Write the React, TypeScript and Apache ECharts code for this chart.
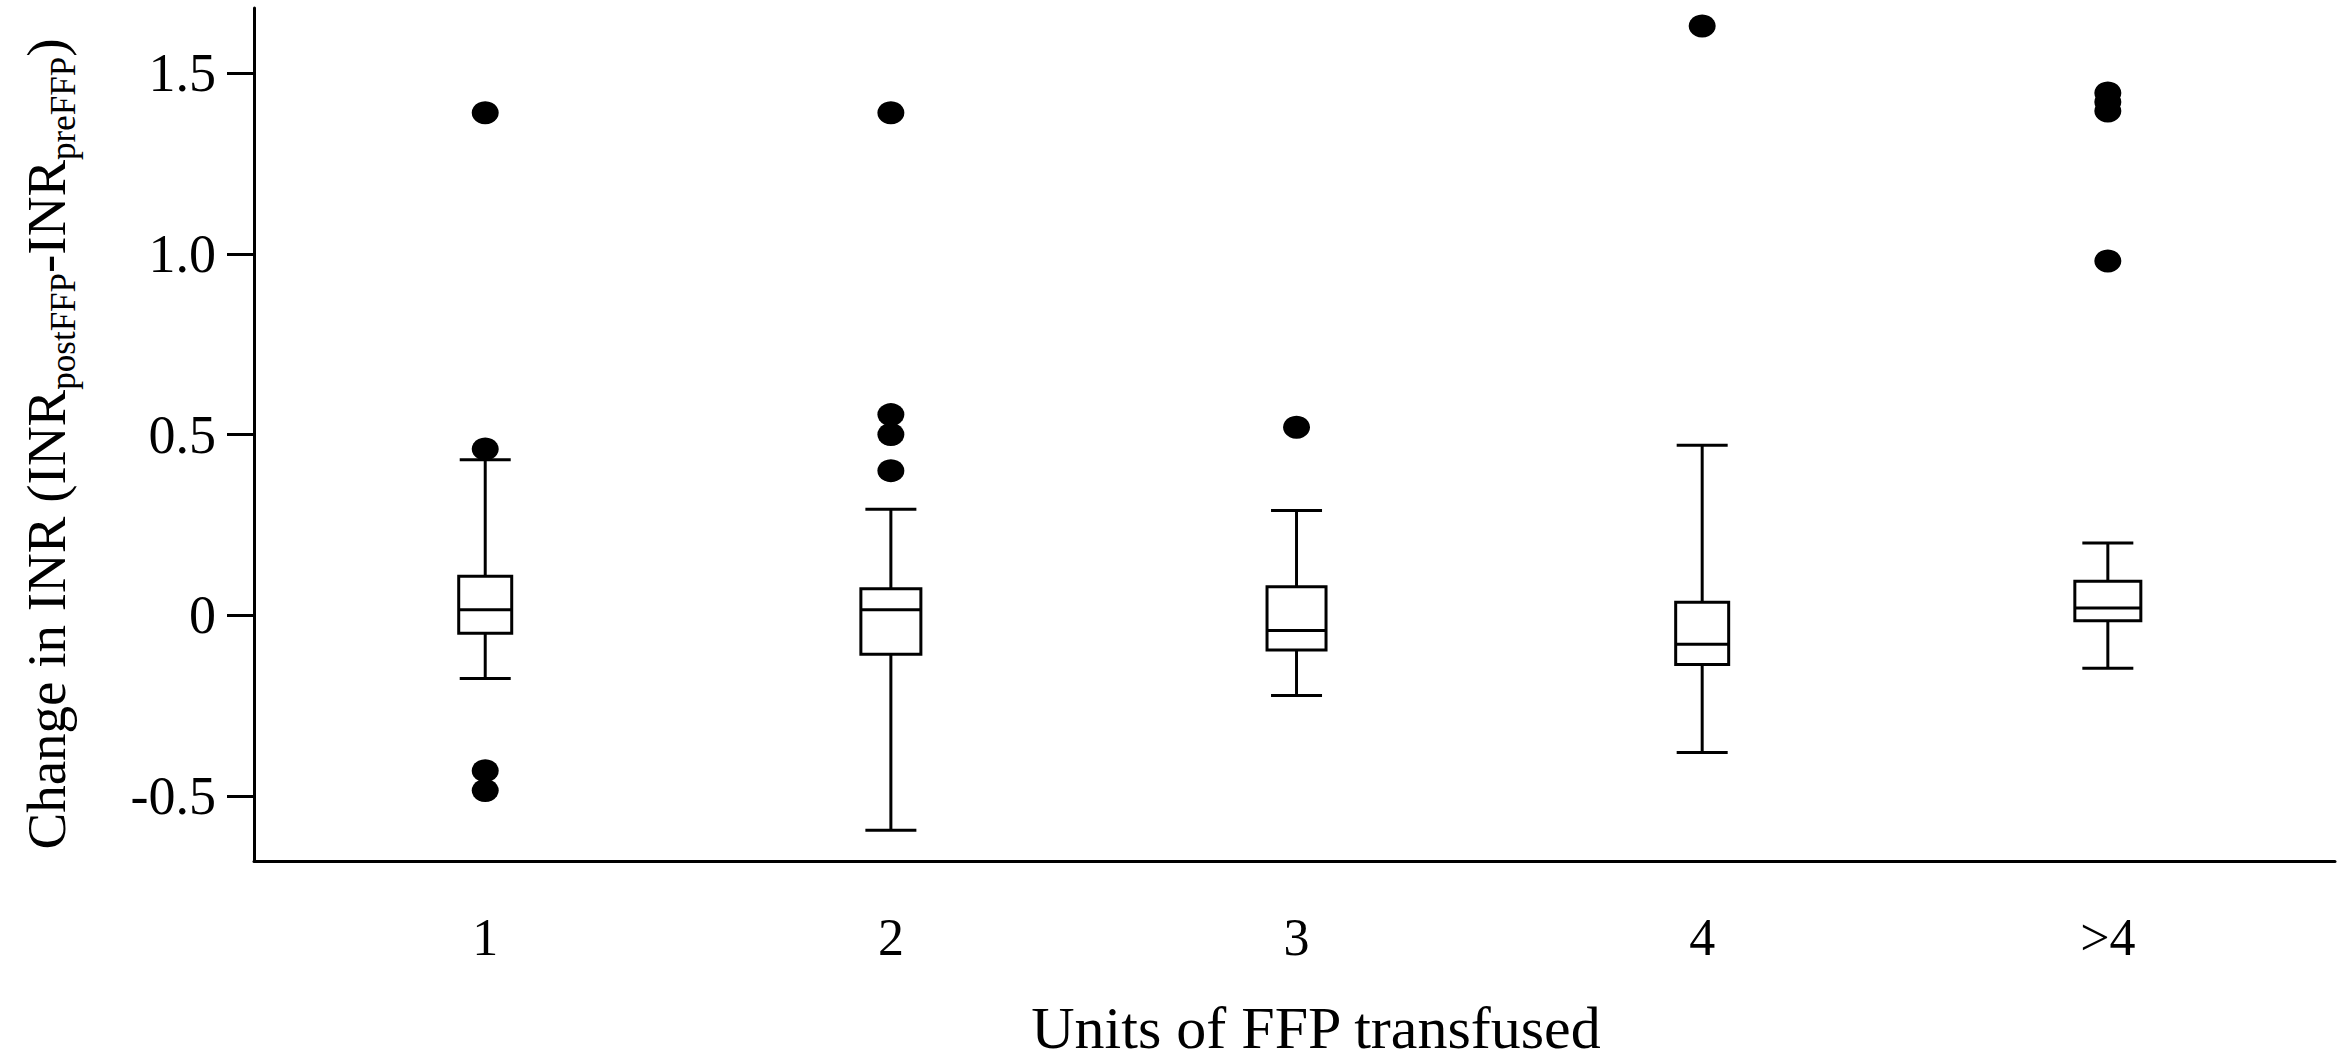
import React, { useEffect, useRef } from "react";
import * as echarts from "echarts";

// ---- Data ----
const categories = ["1", "2", "3", "4", ">4"];
const categoryPositions = [1, 2, 3, 4, 5];
const lowerWhisker = [-0.175, -0.595, -0.222, -0.38, -0.147];
const firstQuartile = [-0.05, -0.108, -0.096, -0.136, -0.015];
const medians = [0.015, 0.015, -0.042, -0.08, 0.02];
const thirdQuartile = [0.108, 0.073, 0.079, 0.036, 0.094];
const upperWhisker = [0.43, 0.293, 0.29, 0.47, 0.2];
const outliers1 = [1.39, 0.46, -0.43, -0.485];
const outliers2 = [1.39, 0.555, 0.5, 0.4];
const outliers3 = [0.52];
const outliers4 = [1.63];
const outliers5 = [1.445, 1.42, 1.395, 0.98];
const yTickValues = [-0.5, 0, 0.5, 1.0, 1.5];
const yTickLabels = ["-0.5", "0", "0.5", "1.0", "1.5"];

// ---- Styles ----
const FONT = "'Liberation Serif', 'Times New Roman', Times, serif";
const boxWidthsPx = [53, 60, 59, 53, 66];
const CAP_HALF = 25.5;
const LINE_W = 3;

export default function App() {
  const ref = useRef<HTMLDivElement>(null);

  useEffect(() => {
    if (!ref.current) return;
    const chart = echarts.init(ref.current, null, { renderer: "svg" });

    const boxData = categoryPositions.map((x, i) => [
      x,
      lowerWhisker[i],
      firstQuartile[i],
      medians[i],
      thirdQuartile[i],
      upperWhisker[i],
    ]);
    const outlierData = [outliers1, outliers2, outliers3, outliers4, outliers5].flatMap(
      (arr, i) => arr.map((v) => [categoryPositions[i], v])
    );

    const findIdx = (arr: number[], v: number) =>
      arr.findIndex((a) => Math.abs(a - v) < 1e-6);

    chart.setOption({
      animation: false,
      backgroundColor: "#ffffff",
      grid: { left: 254, right: 9, top: 8, bottom: 203, containLabel: false },
      xAxis: {
        type: "value",
        min: 0.43,
        max: 5.56,
        axisLine: { show: true, onZero: false, lineStyle: { color: "#000", width: LINE_W } },
        axisTick: { show: false },
        splitLine: { show: false },
        axisLabel: {
          customValues: categoryPositions,
          formatter: (v: number) => {
            const i = findIdx(categoryPositions, v);
            return i >= 0 ? categories[i] : "";
          },
          color: "#000",
          fontFamily: FONT,
          fontSize: 52,
          margin: 50,
        },
      },
      yAxis: {
        type: "value",
        min: -0.68,
        max: 1.68,
        axisLine: { show: true, onZero: false, lineStyle: { color: "#000", width: LINE_W } },
        axisTick: {
          show: true,
          customValues: yTickValues,
          length: 27,
          lineStyle: { color: "#000", width: LINE_W },
        },
        splitLine: { show: false },
        axisLabel: {
          customValues: yTickValues,
          formatter: (v: number) => {
            const i = findIdx(yTickValues, v);
            return i >= 0 ? yTickLabels[i] : "";
          },
          color: "#000",
          fontFamily: FONT,
          fontSize: 54,
          margin: 38,
        },
      },
      series: [
        {
          type: "custom",
          data: boxData,
          encode: { x: 0, y: [1, 2, 3, 4, 5] },
          z: 2,
          renderItem: (params: any, api: any) => {
            const x = api.value(0);
            const low = api.coord([x, api.value(1)]);
            const q1 = api.coord([x, api.value(2)]);
            const med = api.coord([x, api.value(3)]);
            const q3 = api.coord([x, api.value(4)]);
            const high = api.coord([x, api.value(5)]);
            const cx = low[0];
            const bw = boxWidthsPx[params.dataIndex];
            const half = bw / 2;
            const ls = { stroke: "#000", lineWidth: LINE_W, fill: "none" };
            return {
              type: "group",
              children: [
                { type: "line", shape: { x1: cx, y1: q3[1], x2: cx, y2: high[1] }, style: ls },
                { type: "line", shape: { x1: cx - CAP_HALF, y1: high[1], x2: cx + CAP_HALF, y2: high[1] }, style: ls },
                { type: "line", shape: { x1: cx, y1: q1[1], x2: cx, y2: low[1] }, style: ls },
                { type: "line", shape: { x1: cx - CAP_HALF, y1: low[1], x2: cx + CAP_HALF, y2: low[1] }, style: ls },
                {
                  type: "rect",
                  shape: { x: cx - half, y: q3[1], width: bw, height: q1[1] - q3[1] },
                  style: { fill: "#fff", stroke: "#000", lineWidth: LINE_W },
                },
                { type: "line", shape: { x1: cx - half, y1: med[1], x2: cx + half, y2: med[1] }, style: ls },
              ],
            };
          },
        },
        {
          type: "scatter",
          data: outlierData,
          symbol: "circle",
          symbolSize: [27, 23],
          itemStyle: { color: "#000", opacity: 1 },
          z: 3,
        },
      ],
      graphic: [
        {
          type: "text",
          x: 1316,
          y: 1028,
          style: {
            text: "Units of FFP transfused",
            font: `60px ${FONT}`,
            fill: "#000",
            align: "center",
            verticalAlign: "middle",
          },
        },
        {
          type: "text",
          x: 46,
          y: 444,
          rotation: Math.PI / 2,
          style: {
            text: "{a|Change in INR (INR}{b|postFFP}{a|-INR}{b|preFFP}{a|)}",
            align: "center",
            verticalAlign: "middle",
            fill: "#000",
            rich: {
              a: { fontSize: 55, fontFamily: FONT, lineHeight: 70, verticalAlign: "middle", fill: "#000" },
              b: { fontSize: 35, fontFamily: FONT, lineHeight: 35, verticalAlign: "bottom", fill: "#000" },
            },
          },
        },
      ],
    });

    return () => {
      chart.dispose();
    };
  }, []);

  return (
    <div
      ref={ref}
      style={{ position: "fixed", left: 0, top: 0, width: 2344, height: 1064, background: "#fff" }}
    />
  );
}
